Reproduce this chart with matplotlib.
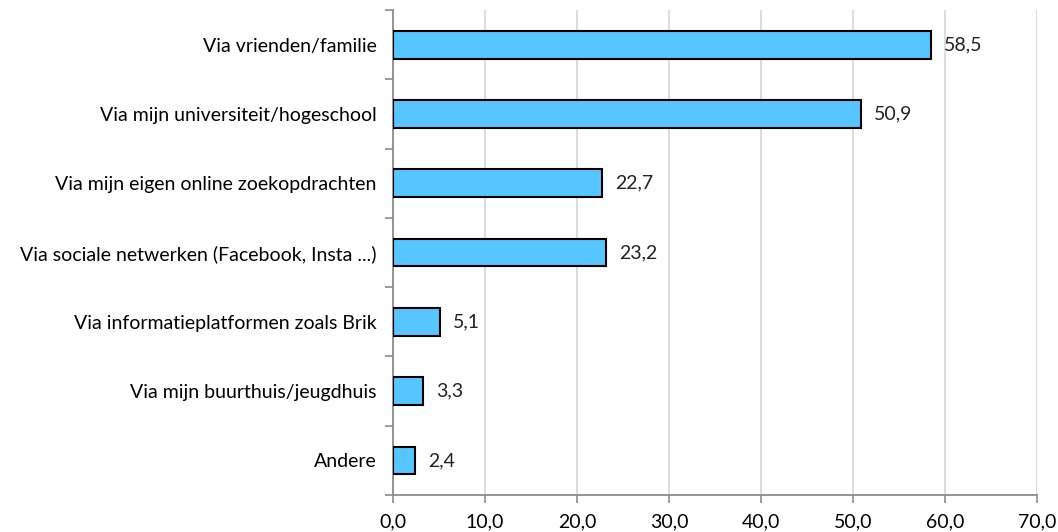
import matplotlib
matplotlib.use("Agg")
import matplotlib.pyplot as plt
import numpy as np

# data
categories = [
    "Via vrienden/familie",
    "Via mijn universiteit/hogeschool",
    "Via mijn eigen online zoekopdrachten",
    "Via sociale netwerken (Facebook, Insta ...)",
    "Via informatieplatformen zoals Brik",
    "Via mijn buurthuis/jeugdhuis",
    "Andere",
]
values = [58.5, 50.9, 22.7, 23.2, 5.1, 3.3, 2.4]
xticks = [0, 10, 20, 30, 40, 50, 60, 70]

plt.rcParams['font.family'] = ['Lato', 'DejaVu Sans']
fs = 14

fig = plt.figure(figsize=(10.58, 5.32), dpi=100)
ax = fig.add_axes([0.3715, 0.0695, 0.6085, 0.9115])

y = np.arange(len(categories))
ax.barh(y, values, height=0.4, color="#57C5FF", edgecolor="black", linewidth=1.5, zorder=3)

for yi, v in zip(y, values):
    ax.text(v + 1.4, yi, f"{v:.1f}".replace(".", ","), va="center", ha="left",
            fontsize=fs, color="#222222")

ax.set_ylim(len(categories) - 0.5, -0.5)
ax.set_xlim(0, 70)
ax.set_yticks(y)
ax.set_yticklabels(categories, fontsize=fs)
ax.set_yticks(np.arange(-0.5, len(categories)), minor=True)
ax.tick_params(axis="y", which="major", length=0, pad=12)
ax.tick_params(axis="y", which="minor", length=6, width=1.2, color="#8c8c8c")

ax.set_xticks(xticks)
ax.set_xticklabels([f"{t:.1f}".replace(".", ",") for t in xticks], fontsize=fs)
ax.tick_params(axis="x", length=6, width=1.2, color="#8c8c8c", pad=7)

ax.grid(axis="x", color="#d9d9d9", linewidth=1.3, zorder=0)
for s in ["top", "right"]:
    ax.spines[s].set_visible(False)
for s in ["left", "bottom"]:
    ax.spines[s].set_color("#8c8c8c")
    ax.spines[s].set_linewidth(1.3)

fig.savefig("out.png", dpi=100)
